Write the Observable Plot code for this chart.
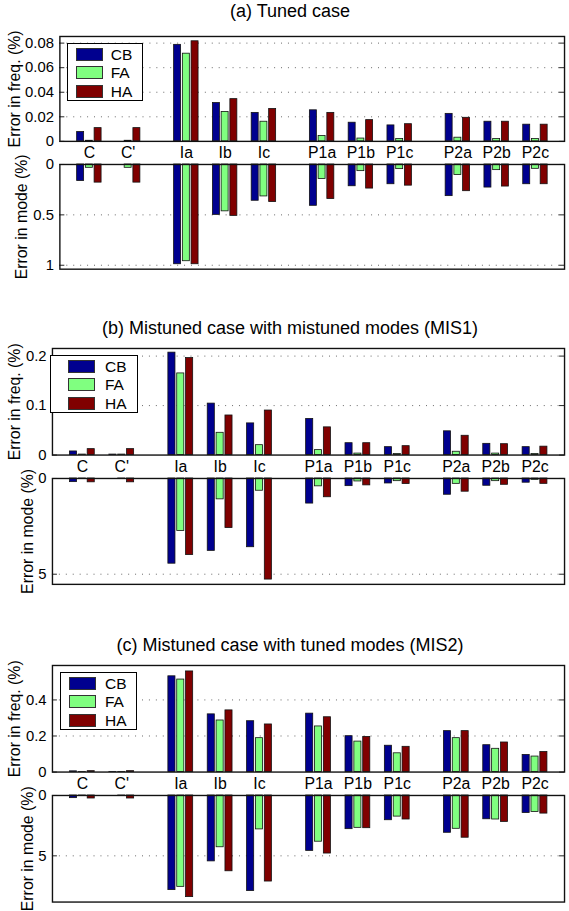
<!DOCTYPE html>
<html>
<head>
<meta charset="utf-8">
<script src="https://cdn.jsdelivr.net/npm/d3@7"></script>
<script src="https://cdn.jsdelivr.net/npm/@observablehq/plot@0.6"></script>
<style>
  body { margin: 0; background: #fff; }
  #root { position: relative; width: 569px; height: 911px; overflow: hidden; background: #fff;
          font-family: "Liberation Sans", Arial, sans-serif; color: #000; }
  .title { position: absolute; font-size: 18px; white-space: nowrap; transform: translateX(-50%); }
  .legend { position: absolute; border: 1.3px solid #000; background: #fff; box-sizing: border-box; }
  .sw { position: absolute; width: 27px; height: 13px; border: 1px solid #333; box-sizing: border-box; }
  .lt { position: absolute; font-size: 15.5px; line-height: 15px; }
</style>
</head>
<body>
<div id="root"></div>
<script>
// ---------------- data ----------------
const categories = ["C", "C'", "Ia", "Ib", "Ic", "P1a", "P1b", "P1c", "P2a", "P2b", "P2c"];
const positions = [1, 2, 3.5, 4.5, 5.5, 7, 8, 9, 10.5, 11.5, 12.5];
const seriesNames = ["CB", "FA", "HA"];
const seriesColors = ["#00008F", "#80FF80", "#800000"];

// (a) Tuned case
const tunedFreqCB = [0.0076, 0, 0.0786, 0.0312, 0.0232, 0.0253, 0.0152, 0.013, 0.0224, 0.016, 0.0136];
const tunedFreqFA = [0.0005, 0.0005, 0.0714, 0.024, 0.016, 0.0044, 0.0023, 0.002, 0.003, 0.002, 0.002];
const tunedFreqHA = [0.0108, 0.0108, 0.0815, 0.0344, 0.0264, 0.0232, 0.0173, 0.014, 0.0192, 0.016, 0.0136];
const tunedModeCB = [0.164, 0, 0.99, 0.5, 0.36, 0.41, 0.216, 0.196, 0.314, 0.229, 0.196];
const tunedModeFA = [0.033, 0.033, 0.96, 0.465, 0.317, 0.144, 0.066, 0.046, 0.105, 0.056, 0.043];
const tunedModeHA = [0.18, 0.18, 0.99, 0.51, 0.373, 0.343, 0.239, 0.21, 0.265, 0.219, 0.196];

// (b) MIS1
const mis1FreqCB = [0.0073, 0.001, 0.207, 0.104, 0.064, 0.073, 0.024, 0.016, 0.048, 0.0227, 0.016];
const mis1FreqFA = [0.001, 0.001, 0.165, 0.045, 0.02, 0.01, 0.003, 0.002, 0.0067, 0.003, 0.002];
const mis1FreqHA = [0.012, 0.012, 0.196, 0.08, 0.09, 0.056, 0.024, 0.018, 0.039, 0.022, 0.017];
const mis1ModeCB = [0.19, 0, 4.45, 3.78, 3.59, 1.31, 0.40, 0.26, 0.85, 0.38, 0.22];
const mis1ModeFA = [0.02, 0.02, 2.74, 1.09, 0.64, 0.41, 0.155, 0.14, 0.28, 0.14, 0.07];
const mis1ModeHA = [0.2, 0.2, 4.0, 2.59, 5.28, 0.98, 0.36, 0.29, 0.69, 0.33, 0.28];

// (c) MIS2
const mis2FreqCB = [0.004, 0.001, 0.531, 0.32, 0.282, 0.324, 0.199, 0.146, 0.227, 0.149, 0.095];
const mis2FreqFA = [0.001, 0.001, 0.513, 0.286, 0.188, 0.253, 0.169, 0.104, 0.188, 0.129, 0.086];
const mis2FreqHA = [0.005, 0.005, 0.558, 0.342, 0.264, 0.304, 0.195, 0.14, 0.227, 0.164, 0.111];
const mis2ModeCB = [0.22, 0, 7.84, 5.46, 7.92, 4.59, 2.79, 2.05, 3.09, 1.97, 1.45];
const mis2ModeFA = [0.05, 0.05, 7.57, 4.29, 2.81, 3.83, 2.68, 1.75, 2.76, 1.99, 1.37];
const mis2ModeHA = [0.25, 0.25, 8.42, 6.28, 7.13, 4.81, 2.71, 1.99, 3.5, 2.19, 1.5];

const titles = ["(a) Tuned case", "(b) Mistuned case with mistuned modes (MIS1)", "(c) Mistuned case with tuned modes (MIS2)"];
const freqLabel = "Error in freq. (%)";
const modeLabel = "Error in mode (%)";
const tunedFreqTicks = [0, 0.02, 0.04, 0.06, 0.08];
const tunedModeTicks = [0, 0.5, 1];
const mis1FreqTicks = [0, 0.1, 0.2];
const mis1ModeTicks = [0, 5];
const mis2FreqTicks = [0, 0.2, 0.4];
const mis2ModeTicks = [0, 5];

// ---------------- drawing ----------------
const root = document.getElementById("root");
const FONT = "'Liberation Sans', Arial, sans-serif";
const X_DOMAIN = [0.24, 13.25];
const RIGHT = 570;   // right frame edge (just outside the picture)
const SVG_W = 575;
const OFFS = [-0.225, 0, 0.225];
const BW = 0.18;

function rows(cb, fa, ha) {
  const out = [];
  [cb, fa, ha].forEach((arr, s) => {
    arr.forEach((v, i) => out.push({
      cat: categories[i], series: seriesNames[s], v,
      x1: positions[i] + OFFS[s] - BW / 2, x2: positions[i] + OFFS[s] + BW / 2
    }));
  });
  return out;
}

function sub({data, frameTop, frameBottom, ymax, reverse, ticks, fmt, left, ylabel, labelX, cats}) {
  const h = frameBottom - frameTop;
  const mt = 1, mb = cats ? 24 : 1;
  const plotW = RIGHT - left;
  const grid = ticks.filter(t => t !== 0 && t !== ymax);
  const marks = [
    Plot.ruleY(grid, {stroke: "#666", strokeDasharray: "1,6", strokeWidth: 1}),
    Plot.rect(data, {x1: "x1", x2: "x2", y1: () => 0, y2: "v", fill: "series", stroke: "#111", strokeWidth: 0.8}),
    Plot.ruleY(ticks, {insetRight: plotW - 5, stroke: "#222"}),
    Plot.ruleY(ticks, {insetLeft: plotW - 5, stroke: "#222"}),
    Plot.axisY(ticks, {anchor: "left", tickSize: 0, tickPadding: 6, tickFormat: fmt, fontSize: 15, label: null}),
    Plot.frame({stroke: "#111", strokeWidth: 1.4}),
    Plot.text([ylabel], {frameAnchor: "left", dx: -(left - labelX), rotate: -90, textAnchor: "middle",
                         lineAnchor: "middle", fontSize: 16, text: d => d})
  ];
  if (cats) {
    marks.push(Plot.text(categories.map((c, i) => ({c, p: positions[i]})),
      {x: "p", frameAnchor: "bottom", dy: 12, text: "c", fontSize: 16, lineAnchor: "middle"}));
  }
  const svg = Plot.plot({
    width: SVG_W, height: h + mt + mb,
    marginLeft: left, marginRight: SVG_W - RIGHT, marginTop: mt, marginBottom: mb,
    style: {background: "transparent", overflow: "visible", fontFamily: FONT, fontSize: "15px", color: "#000"},
    x: {type: "linear", domain: X_DOMAIN, axis: null},
    y: {domain: [0, ymax], reverse, axis: null},
    color: {domain: seriesNames, range: seriesColors},
    marks
  });
  svg.style.position = "absolute";
  svg.style.left = "0px";
  svg.style.top = (frameTop - mt) + "px";
  root.appendChild(svg);
}

function title(text, baseline) {
  const d = document.createElement("div");
  d.className = "title";
  d.textContent = text;
  d.style.left = "290px";
  d.style.top = (baseline - 16) + "px";
  d.style.lineHeight = "20px";
  root.appendChild(d);
}

function legend(boxLeft, boxTop, boxRight, swLeft, txtLeft) {
  const d = document.createElement("div");
  d.className = "legend";
  d.style.left = boxLeft + "px";
  d.style.top = boxTop + "px";
  d.style.width = (boxRight - boxLeft) + "px";
  d.style.height = "58px";
  seriesNames.forEach((n, i) => {
    const s = document.createElement("div");
    s.className = "sw";
    s.style.background = seriesColors[i];
    s.style.left = (swLeft - boxLeft - 1) + "px";
    s.style.top = (3.5 + i * 18.7) + "px";
    d.appendChild(s);
    const t = document.createElement("div");
    t.className = "lt";
    t.textContent = n;
    t.style.left = (txtLeft - boxLeft - 1) + "px";
    t.style.top = (2.5 + i * 18.7) + "px";
    d.appendChild(t);
  });
  root.appendChild(d);
}

// (a)
title(titles[0], 17);
sub({data: rows(tunedFreqCB, tunedFreqFA, tunedFreqHA), frameTop: 36, frameBottom: 142, ymax: 0.0854, reverse: false,
     ticks: tunedFreqTicks, fmt: d => d === 0 ? "0" : d.toFixed(2), left: 60, ylabel: freqLabel, labelX: 15, cats: true});
sub({data: rows(tunedModeCB, tunedModeFA, tunedModeHA), frameTop: 163.5, frameBottom: 269.3, ymax: 1.039, reverse: true,
     ticks: tunedModeTicks, fmt: d => String(d), left: 60, ylabel: modeLabel, labelX: 22, cats: false});
legend(67, 43, 143, 76, 110.7);

// (b)
title(titles[1], 334);
sub({data: rows(mis1FreqCB, mis1FreqFA, mis1FreqHA), frameTop: 348.3, frameBottom: 456, ymax: 0.2154, reverse: false,
     ticks: mis1FreqTicks, fmt: d => d === 0 ? "0" : d.toFixed(1), left: 52.5, ylabel: freqLabel, labelX: 15, cats: true});
sub({data: rows(mis1ModeCB, mis1ModeFA, mis1ModeHA), frameTop: 478.3, frameBottom: 585.3, ymax: 5.53, reverse: true,
     ticks: mis1ModeTicks, fmt: d => String(d), left: 52.5, ylabel: modeLabel, labelX: 28, cats: false});
legend(50, 355, 138, 68, 105);

// (c)
title(titles[2], 651);
sub({data: rows(mis2FreqCB, mis2FreqFA, mis2FreqHA), frameTop: 665, frameBottom: 772.7, ymax: 0.591, reverse: false,
     ticks: mis2FreqTicks, fmt: d => d === 0 ? "0" : d.toFixed(1), left: 52.5, ylabel: freqLabel, labelX: 15, cats: true});
sub({data: rows(mis2ModeCB, mis2ModeFA, mis2ModeHA), frameTop: 795, frameBottom: 902.7, ymax: 8.83, reverse: true,
     ticks: mis2ModeTicks, fmt: d => String(d), left: 52.5, ylabel: modeLabel, labelX: 28, cats: false});
legend(60, 672, 137, 69, 105);
</script>
</body>
</html>
